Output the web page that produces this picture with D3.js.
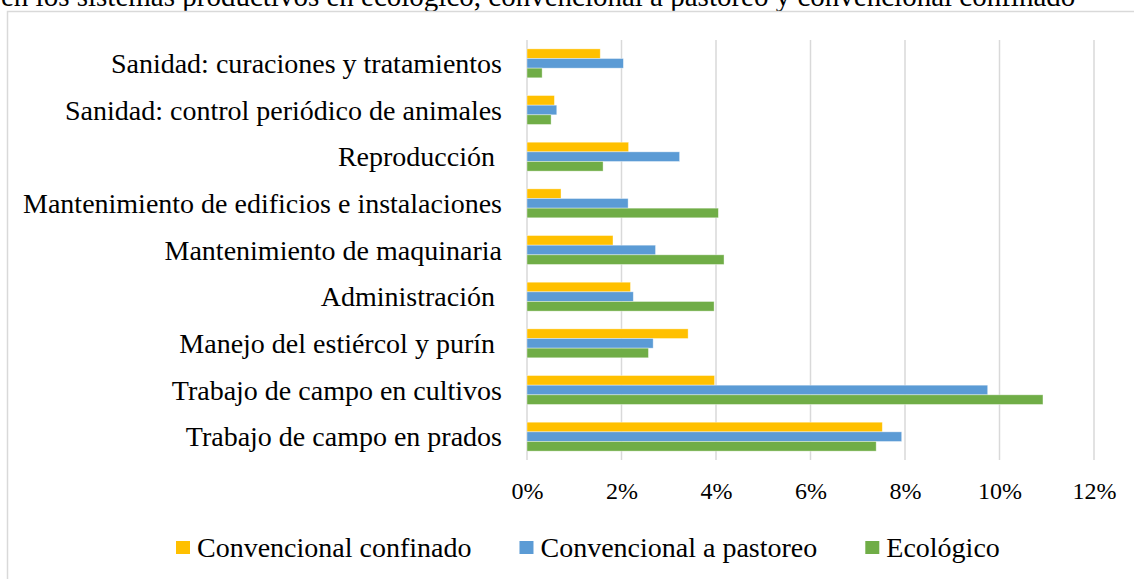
<!DOCTYPE html>
<html>
<head>
<meta charset="utf-8">
<script src="https://cdn.jsdelivr.net/npm/d3@7"></script>
<style>
  body { margin: 0; background: #fff; }
  svg { display: block; font-family: "Liberation Serif", "Times New Roman", serif; }
  text { white-space: pre; }
</style>
</head>
<body>
<div id="chart"></div>
<script>
// categories, top to bottom
const categories = [
  "Sanidad: curaciones y tratamientos",
  "Sanidad: control periódico de animales",
  "Reproducción ",
  "Mantenimiento de edificios e instalaciones",
  "Mantenimiento de maquinaria",
  "Administración ",
  "Manejo del estiércol y purín ",
  "Trabajo de campo en cultivos",
  "Trabajo de campo en prados"
];
const seriesNames = ["Convencional confinado", "Convencional a pastoreo", "Ecológico"];
const confinado = [1.55, 0.58, 2.15, 0.72, 1.82, 2.19, 3.41, 3.97, 7.52];
const pastoreo = [2.04, 0.63, 3.23, 2.14, 2.72, 2.25, 2.67, 9.75, 7.93];
const ecologico = [0.32, 0.51, 1.61, 4.05, 4.17, 3.96, 2.57, 10.92, 7.39];
const xTicks = [0, 2, 4, 6, 8, 10, 12];
const colors = ["#FFC000", "#5B9BD5", "#70AD47"];

const W = 1134, H = 579;
const svg = d3.select("#chart").append("svg").attr("width", W).attr("height", H);

// caption line, cut off at the top like in the source
svg.append("text")
  .attr("x", 1).attr("y", 6)
  .attr("font-size", 29)
  .attr("fill", "#000")
  .text("en los sistemas productivos en ecológico, convencional a pastoreo y convencional confinado");

// chart border
svg.append("rect")
  .attr("x", 7.5).attr("y", 11.5)
  .attr("width", W + 20).attr("height", H + 20)
  .attr("fill", "none")
  .attr("stroke", "#d9d9d9")
  .attr("stroke-width", 1.5);

const x = d3.scaleLinear().domain([0, 12]).range([527, 1094]);
const y = d3.scaleBand().domain(categories).range([40, 460]).paddingInner(0.38).paddingOuter(0.19);
const ySub = d3.scaleBand().domain(seriesNames).range([0, y.bandwidth()]);

// gridlines
svg.append("g")
  .selectAll("line")
  .data(xTicks)
  .join("line")
  .attr("x1", d => x(d)).attr("x2", d => x(d))
  .attr("y1", 40).attr("y2", 460)
  .attr("stroke", "#d9d9d9")
  .attr("stroke-width", 1.5);

// bars
const series = [confinado, pastoreo, ecologico];
series.forEach(function(vals, s) {
  svg.append("g")
    .selectAll("rect")
    .data(vals)
    .join("rect")
    .attr("x", x(0))
    .attr("y", (d, i) => y(categories[i]) + ySub(seriesNames[s]))
    .attr("width", d => x(d) - x(0))
    .attr("height", ySub.bandwidth())
    .attr("fill", colors[s])
    .attr("stroke", "#ffffff")
    .attr("stroke-opacity", 0.5)
    .attr("stroke-width", 0.75);
});

// category labels
svg.append("g")
  .selectAll("text")
  .data(categories)
  .join("text")
  .attr("x", 502)
  .attr("y", d => y(d) + y.bandwidth() / 2)
  .attr("dy", "0.35em")
  .attr("text-anchor", "end")
  .attr("font-size", 28)
  .attr("fill", "#000")
  .text(d => d);

// x axis tick labels
const xAxis = svg.append("g")
  .attr("transform", "translate(0,474)")
  .call(d3.axisBottom(x).tickValues(xTicks).tickFormat(d => d + "%").tickSize(0).tickPadding(0));
xAxis.select(".domain").remove();
xAxis.selectAll("text")
  .attr("font-family", "Liberation Serif")
  .attr("font-size", 24)
  .attr("fill", "#000")
  .attr("dy", "1.05em");

// legend
const legend = svg.append("g");
let lx = 176;
seriesNames.forEach(function(name, i) {
  legend.append("rect")
    .attr("x", lx).attr("y", 541)
    .attr("width", 14).attr("height", 13)
    .attr("fill", colors[i]);
  const t = legend.append("text")
    .attr("x", lx + 21).attr("y", 557)
    .attr("font-size", 28)
    .attr("fill", "#000")
    .text(name);
  lx += 21 + t.node().getComputedTextLength() + 48;
});
</script>
</body>
</html>
